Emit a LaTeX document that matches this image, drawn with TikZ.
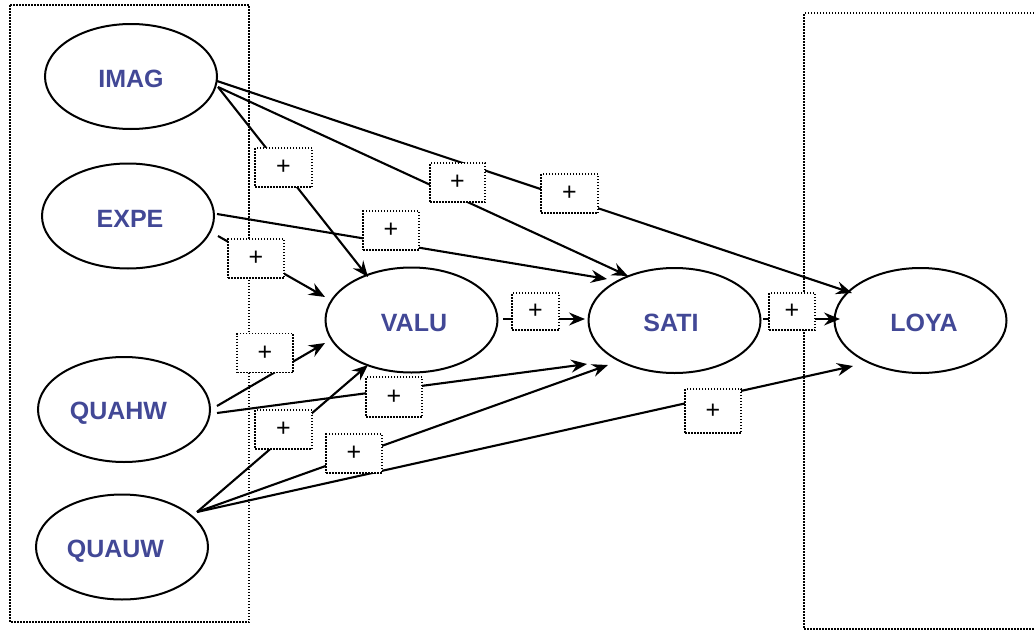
\documentclass[tikz,border=0pt]{standalone}
\usepackage{fontspec}
\setmainfont{Liberation Sans}
\usetikzlibrary{shapes.geometric,arrows.meta}
\definecolor{labelblue}{RGB}{66,72,150}
\begin{document}
\begin{tikzpicture}[x=1pt,y=-1pt,
  construct/.style={ellipse, draw, line width=2pt, minimum width=172pt,
    minimum height=105pt, inner sep=0pt},
  constructname/.style={inner sep=0pt, text=labelblue,
    font=\fontsize{25}{25}\selectfont\bfseries},
  signbox/.style={draw, fill=white, line width=1.5pt,
    dash pattern=on 1.5pt off 1.5pt, minimum width=#1, minimum height=39pt,
    inner sep=0pt, font=\fontsize{25}{25}\selectfont},
  signbox/.default=56pt,
  groupframe/.style={line width=1.5pt, dash pattern=on 1.5pt off 1.5pt},
  effect/.style={line width=2.1pt, -{Stealth[length=16pt,width=13pt,inset=5.5pt]}}]
\useasboundingbox (0,0) rectangle (1034,640);

% exogenous and endogenous groups
\draw[groupframe] (10,5) rectangle (249,622);
\draw[groupframe] (1040,13) -- (804,13) -- (804,629) -- (1040,629);

% constructs
\node[construct] (IMAG)  at (131,76.5)    {};
\node[construct] (EXPE)  at (128,216)     {};
\node[construct] (QUAHW) at (124,409.5)   {};
\node[construct] (QUAUW) at (122,547)     {};
\node[construct] (VALU)  at (411.5,320)   {};
\node[construct] (SATI)  at (674.5,320.5) {};
\node[construct] (LOYA)  at (920.5,320.5) {};

\node[constructname] (IMAG-name)  at ([shift={(0,2.5)}]IMAG.center)    {IMAG};
\node[constructname] (EXPE-name)  at ([shift={(2,3)}]EXPE.center)      {EXPE};
\node[constructname] (QUAHW-name) at ([shift={(-5.5,4)}]QUAHW.center)  {QUAHW};
\node[constructname] (QUAUW-name) at ([shift={(-6.5,4)}]QUAUW.center)  {QUAUW};
\node[constructname] (VALU-name)  at ([shift={(2.5,3)}]VALU.center)    {VALU};
\node[constructname] (SATI-name)  at ([shift={(-3.5,2.5)}]SATI.center) {SATI};
\node[constructname] (LOYA-name)  at ([shift={(3.5,2.5)}]LOYA.center)  {LOYA};

% hypothesised paths
\draw[effect] ([shift={(87,10.5)}]IMAG.center) -- ([shift={(-43.5,-43)}]VALU.center);
\draw[effect] ([shift={(87,10.5)}]IMAG.center) -- ([shift={(-46.5,-44.5)}]SATI.center);
\draw[effect] ([shift={(86,4.5)}]IMAG.center)  -- ([shift={(-68.5,-27.5)}]LOYA.center);
\draw[effect] ([shift={(89,-2)}]EXPE.center)   -- ([shift={(-67.5,-41.5)}]SATI.center);
\draw[effect] ([shift={(90,20)}]EXPE.center)   -- ([shift={(-86.5,-23)}]VALU.center);
\draw[effect] ([shift={(93,-3.5)}]QUAHW.center) -- ([shift={(-86.5,23)}]VALU.center);
\draw[effect] ([shift={(93,3.5)}]QUAHW.center)  -- ([shift={(-87.5,43.5)}]SATI.center);
\draw[effect] ([shift={(75,-35)}]QUAUW.center) -- ([shift={(-43.5,45)}]VALU.center);
\draw[effect] ([shift={(75,-35)}]QUAUW.center) -- ([shift={(-66.5,44.5)}]SATI.center);
\draw[effect] ([shift={(75,-35)}]QUAUW.center) -- ([shift={(-67.5,45.5)}]LOYA.center);
\draw[effect] ([shift={(91.5,-1)}]VALU.center) -- ([shift={(-89.5,-1.5)}]SATI.center);
\draw[effect] ([shift={(88.5,-1.5)}]SATI.center) -- ([shift={(-80.5,-1.5)}]LOYA.center);

% expected signs
\node[signbox=57pt] (s1)  at (283.5,167.5) {+};
\node[signbox]      (s2)  at (256,258.5)   {+};
\node[signbox]      (s3)  at (265,353)     {+};
\node[signbox=57pt] (s4)  at (283.5,429.5) {+};
\node[signbox]      (s5)  at (354,453.5)   {+};
\node[signbox=55pt] (s6)  at (457.5,182.5) {+};
\node[signbox=57pt] (s7)  at (569.5,193.5) {+};
\node[signbox]      (s8)  at (391,230.5)   {+};
\node[signbox=47pt, minimum height=37pt] (s9)  at (535.5,311.5) {+};
\node[signbox, minimum height=40pt]      (s10) at (394,397)     {+};
\node[signbox, minimum height=44pt]      (s11) at (713,411)     {+};
\node[signbox=46pt, minimum height=37pt] (s12) at (792,311.5)   {+};
\end{tikzpicture}
\end{document}
